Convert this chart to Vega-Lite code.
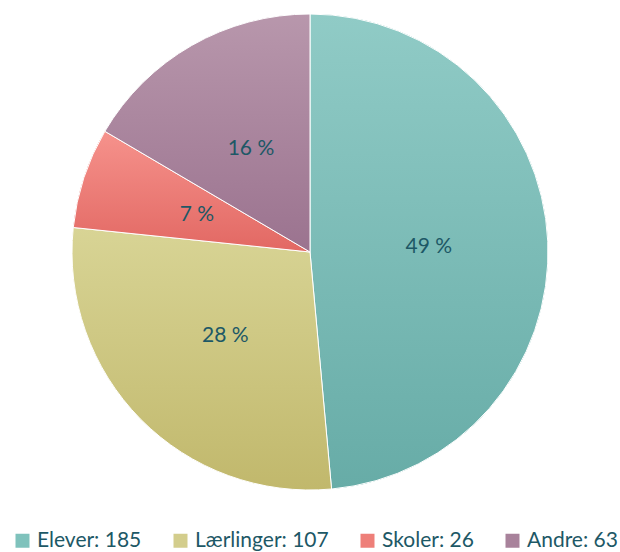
{
  "$schema": "https://vega.github.io/schema/vega-lite/v6.json",
  "width": 620,
  "height": 504,
  "padding": 0,
  "background": "white",
  "data": {"values": [
    {"kategori": "Elever", "legend": "Elever: 185", "antal": 185, "pct": "49 %", "i": 1},
    {"kategori": "Lærlinger", "legend": "Lærlinger: 107", "antal": 107, "pct": "28 %", "i": 2},
    {"kategori": "Skoler", "legend": "Skoler: 26", "antal": 26, "pct": "7 %", "i": 3},
    {"kategori": "Andre", "legend": "Andre: 63", "antal": 63, "pct": "16 %", "i": 4}
  ]},
  "encoding": {
    "theta": {"field": "antal", "type": "quantitative", "stack": true},
    "order": {"field": "i", "type": "quantitative"}
  },
  "layer": [
    {
      "mark": {"type": "arc", "outerRadius": 238},
      "encoding": {
        "color": {
          "field": "legend", "type": "nominal",
          "sort": ["Elever: 185", "Lærlinger: 107", "Skoler: 26", "Andre: 63"],
          "scale": {"domain": ["Elever: 185", "Lærlinger: 107", "Skoler: 26", "Andre: 63"], "range": ["#7fc2bc", "#d3cd8c", "#ee7f79", "#a8829b"]},
          "legend": {
            "title": null, "orient": "none", "legendX": 12, "legendY": 530, "direction": "horizontal",
            "symbolType": "square", "symbolSize": 196, "symbolStrokeWidth": 0,
            "labelFont": "Lato", "labelFontSize": 21, "labelColor": "#1d5866", "labelLimit": 300,
            "columnPadding": 28, "labelOffset": 4, "padding": 0
          }
        }
      }
    },
    {
      "mark": {"type": "arc", "outerRadius": 238, "stroke": "white", "strokeWidth": 1},
      "encoding": {
        "fill": {
          "condition": [
            {"test": "datum.kategori === 'Elever'", "value": {"gradient": "linear", "x1": 0, "y1": 0, "x2": 0, "y2": 1, "stops": [{"offset": 0, "color": "#90cbc6"}, {"offset": 1, "color": "#67aca7"}]}},
            {"test": "datum.kategori === 'Lærlinger'", "value": {"gradient": "linear", "x1": 0, "y1": 0, "x2": 0, "y2": 1, "stops": [{"offset": 0, "color": "#d8d495"}, {"offset": 1, "color": "#c1b86c"}]}},
            {"test": "datum.kategori === 'Skoler'", "value": {"gradient": "linear", "x1": 0, "y1": 0, "x2": 0, "y2": 1, "stops": [{"offset": 0, "color": "#f6928c"}, {"offset": 1, "color": "#e26863"}]}}
          ],
          "value": {"gradient": "linear", "x1": 0, "y1": 0, "x2": 0, "y2": 1, "stops": [{"offset": 0, "color": "#b897ac"}, {"offset": 1, "color": "#9b738f"}]}
        }
      }
    },
    {
      "mark": {"type": "text", "radius": 119, "font": "Lato", "fontSize": 21, "color": "#1d5866"},
      "encoding": {"text": {"field": "pct", "type": "nominal"}}
    }
  ],
  "view": {"stroke": null}
}
